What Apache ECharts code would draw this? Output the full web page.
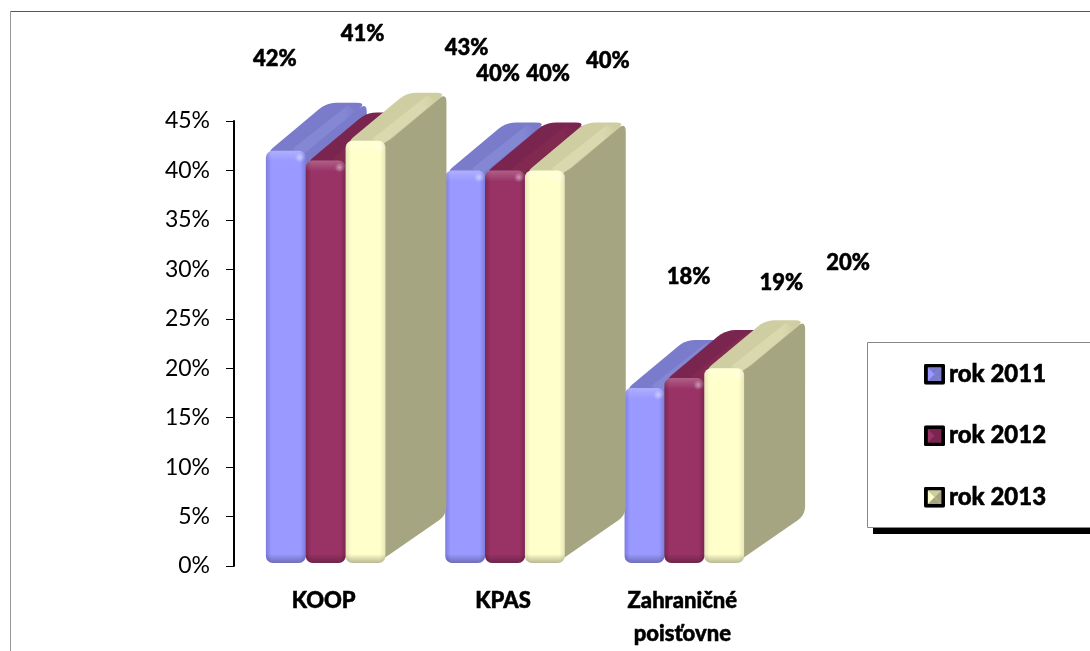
<!DOCTYPE html>
<html>
<head>
<meta charset="utf-8">
<style>
html,body{margin:0;padding:0;background:#fff}
#chart{width:1090px;height:651px}
</style>
<script src="https://cdn.jsdelivr.net/npm/echarts@6/dist/echarts.min.js"></script>
</head>
<body>
<div id="chart"></div>
<script>
var categories = ['KOOP', 'KPAS', 'Zahraničné\npoisťovne']
var years = ['rok 2011', 'rok 2012', 'rok 2013']
var values2011 = [42, 40, 18]
var values2012 = [41, 40, 19]
var values2013 = [43, 40, 20]

// where the labels float, relative to the top centre of the front face
var labelShift2011 = [[-11, -92], [33, -97], [44, -111]]
var labelShift2012 = [[37, -127], [43, -97], [97, -95]]
var labelShift2013 = [[101, -93], [63, -110], [124, -105]]

var frontColors = ['#9999ff', '#993366', '#ffffcc']
var topColors = ['#7a7ccb', '#7a2450', '#cfcea3']
var stripColors = ['#8487d4', '#81294f', '#d9d8ae']
var sideColors = ['#7a7ccb', '#7a2450', '#a6a581']
var edgeColors = ['#7c7ce0', '#7c2650', '#e6e6b8']

var barRatio = 0.2222
var barShift = 2
var depthX = 61
var depthY = -48
var radius = 7

// polygon with its corners cut round, sampled as short segments
function roundPoly(pts, r){
  var out = []
  for(var i = 0; i < pts.length; i++){
    var p = pts[i]
    var a = pts[(i + pts.length - 1) % pts.length]
    var b = pts[(i + 1) % pts.length]
    var la = Math.hypot(a[0] - p[0], a[1] - p[1])
    var lb = Math.hypot(b[0] - p[0], b[1] - p[1])
    var s = [p[0] + (a[0] - p[0]) * r / la, p[1] + (a[1] - p[1]) * r / la]
    var e = [p[0] + (b[0] - p[0]) * r / lb, p[1] + (b[1] - p[1]) * r / lb]
    for(var t = 0; t <= 1.001; t += 0.2){
      out.push([
        (1 - t) * (1 - t) * s[0] + 2 * t * (1 - t) * p[0] + t * t * e[0],
        (1 - t) * (1 - t) * s[1] + 2 * t * (1 - t) * p[1] + t * t * e[1]
      ])
    }
  }
  return out
}

function gradient(horizontal, stops){
  return new echarts.graphic.LinearGradient(0, 0, horizontal ? 1 : 0, horizontal ? 0 : 1, stops)
}

function barRenderer(s, labelShift){
  return function(params, api){
    var cat = api.value(0)
    var val = api.value(1)
    var top = api.coord([cat, val])
    var base = api.coord([cat, 0])
    var band = api.size([1, 0])[0]
    var w = band * barRatio
    var x = top[0] + barShift + (s - 1.5) * w
    var y = top[1]
    var h = base[1] - 3 - y
    var b = y + h
    var sh = labelShift[cat]
    return {
      type: 'group',
      children: [
        {
          type: 'polygon',
          shape: {points: roundPoly([[x + w - 8, y + 4], [x + w + depthX, y + depthY], [x + w + depthX, b + depthY], [x + w - 8, b]], 9)},
          style: {fill: sideColors[s]}
        },
        {
          type: 'polygon',
          shape: {points: roundPoly([[x, y + 3], [x + depthX, y + depthY], [x + w + depthX, y + depthY], [x + w, y + 3]], 10)},
          style: {fill: topColors[s]}
        },
        {
          type: 'polygon',
          shape: {points: [[x + w - 13, y - 2], [x + w - 13 + depthX * 0.9, y - 2 + depthY * 0.9], [x + w - 4 + depthX * 0.9, y + 3 + depthY * 0.9], [x + w - 3, y + 4]]},
          style: {fill: gradient(true, [
            {offset: 0, color: stripColors[s]},
            {offset: 0.8, color: stripColors[s]},
            {offset: 1, color: topColors[s]}
          ])}
        },
        {
          type: 'rect',
          shape: {x: x, y: y, width: w, height: h, r: radius},
          style: {fill: gradient(true, [
            {offset: 0, color: edgeColors[s]},
            {offset: 0.14, color: frontColors[s]},
            {offset: 0.86, color: frontColors[s]},
            {offset: 1, color: edgeColors[s]}
          ])}
        },
        {
          type: 'rect',
          shape: {x: x, y: y, width: w, height: 11, r: [radius, radius, 0, 0]},
          style: {fill: gradient(false, [
            {offset: 0, color: 'rgba(255,255,255,0.22)'},
            {offset: 1, color: 'rgba(255,255,255,0)'}
          ])}
        },
        {
          type: 'circle',
          shape: {cx: x + w - 6, cy: y + 7, r: 5},
          style: {fill: new echarts.graphic.RadialGradient(0.5, 0.5, 0.5, [
            {offset: 0, color: 'rgba(255,255,255,0.45)'},
            {offset: 1, color: 'rgba(255,255,255,0)'}
          ])}
        },
        {
          type: 'rect',
          shape: {x: x, y: b - 9, width: w, height: 9, r: [0, 0, radius, radius]},
          style: {fill: gradient(false, [
            {offset: 0, color: 'rgba(0,0,0,0)'},
            {offset: 1, color: 'rgba(0,0,0,0.28)'}
          ])}
        },
        {
          type: 'text',
          style: {
            x: x + w / 2 + sh[0],
            y: y + sh[1],
            text: val + '%',
            fill: '#000',
            stroke: '#000',
            lineWidth: 0.5,
            font: '900 22px Lato',
            align: 'center',
            verticalAlign: 'middle'
          }
        }
      ]
    }
  }
}

function legendIcon(front, top, side){
  var svg = "<svg xmlns='http://www.w3.org/2000/svg' width='22' height='22'>" +
    "<rect width='22' height='22' rx='2' fill='#000'/>" +
    "<rect x='4' y='4' width='14' height='14' fill='" + front + "'/>" +
    "<polygon points='4,4 18,4 11,11' fill='" + top + "'/>" +
    "<polygon points='18,4 18,18 11,11' fill='" + side + "'/>" +
    "<polygon points='4,18 18,18 11,11' fill='" + side + "'/></svg>"
  return 'image://data:image/svg+xml;charset=utf-8,' + encodeURIComponent(svg)
}

var allValues = [values2011, values2012, values2013]
var allShifts = [labelShift2011, labelShift2012, labelShift2013]

var option = {
  animation: false,
  backgroundColor: '#fff',
  textStyle: {fontFamily: 'Lato'},
  grid: {left: 234, top: 121, right: 318, bottom: 85, containLabel: false, outerBoundsMode: 'none'},
  graphic: [
    {type: 'line', z: 0, shape: {x1: 10, y1: 11.5, x2: 1090, y2: 11.5}, style: {stroke: '#555', lineWidth: 1}},
    {type: 'line', z: 0, shape: {x1: 10.5, y1: 11, x2: 10.5, y2: 651}, style: {stroke: '#999', lineWidth: 1}},
    {type: 'rect', z: 0, shape: {x: 873, y: 348, width: 230, height: 186}, style: {fill: '#000'}},
    {type: 'rect', z: 1, shape: {x: 867.5, y: 342.5, width: 230, height: 185}, style: {fill: '#fff', stroke: '#888', lineWidth: 1}}
  ],
  legend: {
    orient: 'vertical',
    left: 924,
    top: 362,
    itemWidth: 21,
    itemHeight: 21,
    itemGap: 37,
    padding: 0,
    textStyle: {color: '#000', fontFamily: 'Lato', fontWeight: 900, fontSize: 24, textBorderColor: '#000', textBorderWidth: 0.5, padding: [0, 0, 0, -1]},
    data: years.map(function(y, s){
      return {name: y, icon: legendIcon(frontColors[s], topColors[s], sideColors[s])}
    })
  },
  xAxis: {
    type: 'category',
    data: categories,
    axisLine: {show: false},
    axisTick: {show: false},
    axisLabel: {interval: 0, color: '#000', fontFamily: 'Lato', fontWeight: 900, fontSize: 22, textBorderColor: '#000', textBorderWidth: 0.5, lineHeight: 33, margin: 18}
  },
  yAxis: {
    type: 'value',
    min: 0,
    max: 45,
    interval: 5,
    splitLine: {show: false},
    axisLine: {show: true, lineStyle: {color: '#000', width: 2}},
    axisTick: {show: true, length: 8, lineStyle: {color: '#000', width: 1}},
    axisLabel: {formatter: '{value}%', color: '#000', fontFamily: 'Lato', fontSize: 23, margin: 24, padding: [5, 0, 0, 0]}
  },
  series: years.map(function(y, s){
    return {
      name: y,
      type: 'custom',
      renderItem: barRenderer(s, allShifts[s]),
      encode: {x: 0, y: 1},
      clip: false,
      data: allValues[s].map(function(v, i){ return [i, v] })
    }
  })
}

var chart = echarts.init(document.getElementById('chart'))
chart.setOption(option)
</script>
</body>
</html>
